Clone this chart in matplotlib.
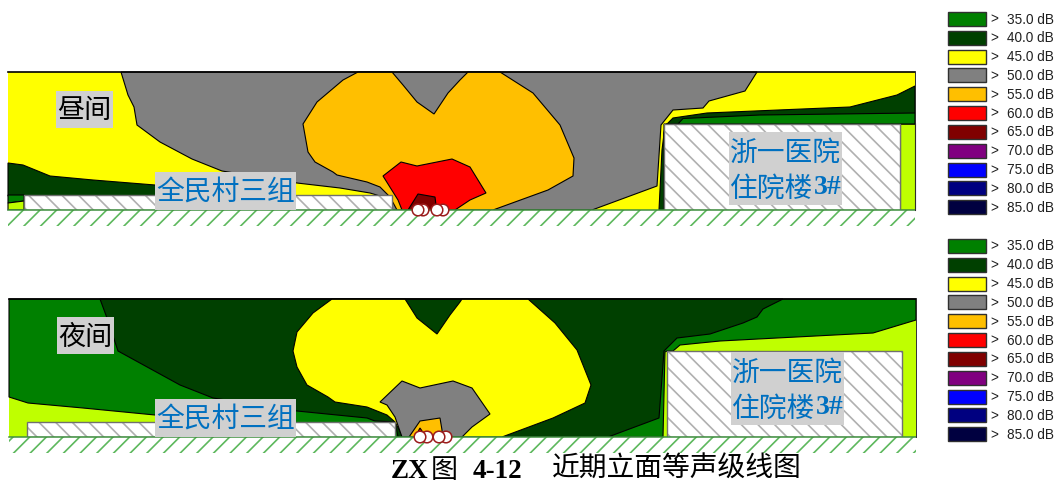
import matplotlib
matplotlib.use('Agg')
import matplotlib.pyplot as plt
from matplotlib.patches import Rectangle, Circle

plt.rcParams['font.family'] = ['Noto Sans CJK SC', 'DejaVu Sans']
plt.rcParams['hatch.linewidth'] = 1.2

levels = ['35.0', '40.0', '45.0', '50.0', '55.0', '60.0', '65.0', '70.0', '75.0', '80.0', '85.0']
level_colors = ['#008000', '#004000', '#FFFF00', '#808080', '#FFBF00', '#FF0000',
                '#800000', '#800080', '#0000FF', '#000080', '#000040']
LIME = '#BFFF00'

# contour outlines, in picture pixels
day_dark_left = [(8, 163), (23, 165), (50, 176), (93, 180), (155, 185), (225, 194), (225, 196), (8, 196)]
day_green_left = [(8, 195), (24, 195), (24, 201), (8, 203)]
day_lime_left = [(8, 203), (24, 201), (24, 210), (8, 210)]
day_gray = [(121, 72), (128, 95), (134, 107), (137, 125), (160, 142), (192, 159), (222, 171),
            (297, 183), (340, 188), (370, 193), (380, 196), (392, 210), (592, 210), (657, 186),
            (661, 125), (673, 110), (703, 108), (709, 101), (745, 91), (757, 72)]
day_dark_right = [(659, 210), (662, 150), (665, 126), (673, 118), (707, 113), (850, 107), (897, 95),
                  (915, 86), (915, 124), (664, 124), (664, 210)]
day_green_right = [(678, 124), (683, 118.5), (760, 115), (915, 113), (915, 124)]
day_lime_right = [(900, 123), (915, 123), (915, 210), (900, 210)]
day_orange = [(358, 72), (392, 72), (403, 85), (417, 102), (434, 114), (448, 93), (460, 80), (468, 72),
              (500, 72), (533, 93), (560, 125), (574, 158), (573, 176), (548, 190), (493, 210),
              (397, 210), (390, 197), (380, 187), (367, 182), (337, 175), (333, 172), (315, 162),
              (308, 152), (303, 124), (317, 102), (343, 80)]
day_red = [(383, 176), (401, 162), (417, 166), (452, 159), (470, 167), (486, 193), (470, 200),
           (455, 210), (402, 210), (398, 200)]
day_darkred = [(408, 210), (418, 194), (435, 197), (436, 205), (438, 210)]

night_green = [(9, 299), (916, 299), (916, 320), (873, 333), (777, 338), (720, 341), (680, 345), (673, 351),
               (667, 351), (665, 352), (663, 437), (200, 437), (200, 422), (155, 415), (83, 408),
               (28, 403), (9, 397)]
night_dark = [(100, 299), (107, 318), (118, 351), (180, 385), (213, 398), (297, 411), (367, 418), (375, 421),
              (395, 422), (398, 437), (608, 437), (659, 418), (664, 351), (677, 338), (710, 334),
              (743, 323), (757, 317), (763, 309), (783, 299)]
night_yellow = [(332, 299), (405, 299), (417, 318), (437, 334), (450, 315), (460, 302), (462, 299), (528, 299),
                (555, 323), (577, 350), (591, 385), (585, 403), (553, 418), (502, 437), (403, 437),
                (395, 422), (387, 415), (367, 407), (335, 402), (328, 397), (307, 385), (297, 367),
                (293, 351), (297, 332), (313, 313)]
night_gray = [(380, 402), (402, 381), (420, 388), (453, 381), (472, 388), (490, 414), (472, 427), (462, 437),
              (402, 437), (395, 417), (387, 405)]
night_orange = [(409, 437), (420, 421), (440, 418), (442, 430), (442, 437)]
night_red = [(415, 437), (420, 428), (426, 437)]

day_polys = [(day_dark_left, level_colors[1]), (day_green_left, level_colors[0]), (day_lime_left, LIME),
             (day_gray, level_colors[3]), (day_lime_right, LIME), (day_dark_right, level_colors[1]),
             (day_green_right, level_colors[0]), (day_orange, level_colors[4]), (day_red, level_colors[5]),
             (day_darkred, level_colors[6])]
night_polys = [(night_green, level_colors[0]), (night_dark, level_colors[1]), (night_yellow, level_colors[2]),
               (night_gray, level_colors[3]), (night_orange, level_colors[4]), (night_red, level_colors[5])]

day_sources = [423, 443, 418, 437]
night_sources = [427, 446, 420, 439]

fig = plt.figure(figsize=(10.57, 4.84), dpi=100)
ax = fig.add_axes([0, 0, 1, 1])
ax.set_xlim(0, 1057)
ax.set_ylim(484, 0)
ax.axis('off')


def panel(x0, x1, top, ground, base, polys, left_bld, right_bld, sources):
    ax.add_patch(Rectangle((x0, top), x1 - x0, ground - top, fc=base, ec='none'))
    for pts, col in polys:
        xs = [p[0] for p in pts]
        ys = [p[1] for p in pts]
        ax.fill(xs, ys, fc=col, ec='black', lw=0.8)
    # buildings
    for (bx0, by0, bx1) in (left_bld, right_bld):
        ax.add_patch(Rectangle((bx0, by0), bx1 - bx0, ground - by0, fc='white', ec='#B0B0B0',
                               hatch='\\\\', lw=0))
        ax.add_patch(Rectangle((bx0, by0), bx1 - bx0, ground - by0, fc='none', ec='#707070', lw=1.0))
    # ground
    ax.add_patch(Rectangle((x0, ground), x1 - x0, 16, fc='white', ec='#5DB85D', hatch='//', lw=0))
    ax.plot([x0, x1], [ground, ground], color='#3F8F3F', lw=1.1)
    ax.plot([x0, x1], [top, top], color='black', lw=1.2)
    ax.plot([x1, x1], [top, ground], color='#303030', lw=0.7)
    for sx in sources:
        ax.add_patch(Circle((sx, ground), 5.8, fc='white', ec='#9B1C1C', lw=1.1, zorder=5))


def tag(x0, y0, x1, y1):
    ax.add_patch(Rectangle((x0, y0), x1 - x0, y1 - y0, fc='#D0D0D0', ec='none', zorder=6))


panel(8, 915, 72, 210, level_colors[2], day_polys, (24, 195, 392), (664, 124, 900), day_sources)
panel(9, 916, 299, 437, LIME, night_polys, (27, 422, 395), (667, 351, 902), night_sources)

BLUE = '#0070C0'
tag(56, 91, 113, 128)
ax.text(84.5, 111, '昼间', fontsize=19.5, color='black', ha='center', va='center', zorder=7, weight='medium')
tag(57, 317, 114, 354)
ax.text(85.5, 337, '夜间', fontsize=19.5, color='black', ha='center', va='center', zorder=7, weight='medium')

for y0, y1 in ((172, 210), (399, 437)):
    tag(155, y0, 296, y1)
    ax.text(225.5, (y0 + y1) / 2 + 1, '全民村三组', fontsize=20, color=BLUE, ha='center', va='center', zorder=7,
            weight='medium')

for x0, y0 in ((729, 132), (731, 352)):
    tag(x0, y0, x0 + 113, y0 + 73)
    ax.text(x0 + 56.5, y0 + 21, '浙一医院', fontsize=20, color=BLUE, ha='center', va='center', zorder=7,
            weight='medium')
    ax.text(x0 + 1, y0 + 57, '住院楼', fontsize=20, color=BLUE, ha='left', va='center', zorder=7, weight='medium')
    ax.text(x0 + 85, y0 + 56, '3#', fontsize=20, color=BLUE, ha='left', va='center', zorder=7,
            family='Liberation Serif', weight='bold')

# legends
for y_start in (19, 246):
    for i, lev in enumerate(levels):
        yc = y_start + i * 18.82
        ax.add_patch(Rectangle((948, yc - 7), 38, 14, fc=level_colors[i], ec='#303030', lw=1.0))
        ax.text(990, yc + 0.5, '>', fontsize=9.8, family='Liberation Sans', va='center', ha='left', color='#202020')
        ax.text(1054, yc + 0.5, lev + ' dB', fontsize=9.8, family='Liberation Sans', va='center', ha='right',
                color='#202020')

# caption
ax.text(391, 478, 'ZX', fontsize=19.5, family='Liberation Serif', weight='bold', va='baseline', ha='left')
ax.text(431, 484, '图', fontsize=19.5, weight='medium', va='bottom', ha='left')
ax.text(473, 478, '4-12', fontsize=19.5, family='Liberation Serif', weight='bold', va='baseline', ha='left')
ax.text(552, 484, '近期立面等声级线图', fontsize=20, weight='medium', va='bottom', ha='left')

fig.savefig('out.png', dpi=100)
